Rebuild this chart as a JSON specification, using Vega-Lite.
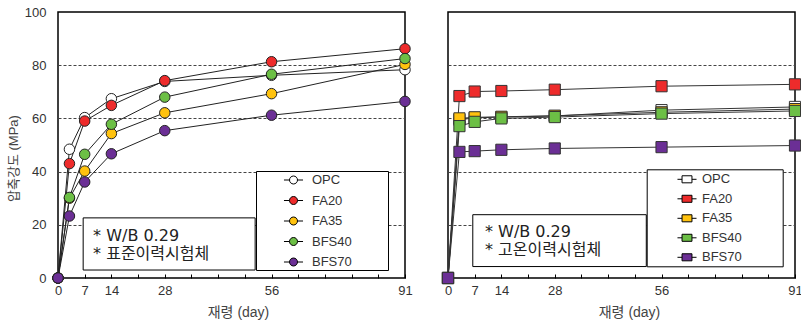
{
  "$schema": "https://vega.github.io/schema/vega-lite/v6.json",
  "background": "white",
  "padding": {"left": 6, "top": 5, "right": 0, "bottom": 0},
  "config": {
    "font": "Liberation Sans, Noto Sans CJK KR, sans-serif",
    "view": {"stroke": "black", "strokeWidth": 1.5},
    "axis": {
      "labelFont": "Liberation Sans, Noto Sans CJK KR, sans-serif",
      "titleFont": "Liberation Sans, Noto Sans CJK KR, sans-serif",
      "labelFontSize": 13,
      "labelColor": "#333",
      "titleFontSize": 14,
      "titleFontWeight": "normal",
      "titleColor": "#444",
      "domain": false,
      "labelOverlap": false
    },
    "axisX": {"labelOverlap": false, "labelFlush": false, "labelBound": false},
    "legend": {
      "labelFont": "Liberation Sans, Noto Sans CJK KR, sans-serif",
      "labelFontSize": 13,
      "labelColor": "#333"
    }
  },
  "datasets": {
    "left": [
      {"series": "OPC", "day": 0, "value": 0}, {"series": "OPC", "day": 3, "value": 48.4}, {"series": "OPC", "day": 7, "value": 60.3}, {"series": "OPC", "day": 14, "value": 67.4}, {"series": "OPC", "day": 28, "value": 73.9}, {"series": "OPC", "day": 56, "value": 76.2}, {"series": "OPC", "day": 91, "value": 78.3},
      {"series": "FA20", "day": 0, "value": 0}, {"series": "FA20", "day": 3, "value": 43.0}, {"series": "FA20", "day": 7, "value": 59.0}, {"series": "FA20", "day": 14, "value": 64.9}, {"series": "FA20", "day": 28, "value": 74.2}, {"series": "FA20", "day": 56, "value": 81.3}, {"series": "FA20", "day": 91, "value": 86.2},
      {"series": "FA35", "day": 0, "value": 0}, {"series": "FA35", "day": 3, "value": 30.0}, {"series": "FA35", "day": 7, "value": 40.2}, {"series": "FA35", "day": 14, "value": 54.3}, {"series": "FA35", "day": 28, "value": 62.1}, {"series": "FA35", "day": 56, "value": 69.3}, {"series": "FA35", "day": 91, "value": 80.3},
      {"series": "BFS40", "day": 0, "value": 0}, {"series": "BFS40", "day": 3, "value": 30.3}, {"series": "BFS40", "day": 7, "value": 46.5}, {"series": "BFS40", "day": 14, "value": 57.8}, {"series": "BFS40", "day": 28, "value": 68.0}, {"series": "BFS40", "day": 56, "value": 76.6}, {"series": "BFS40", "day": 91, "value": 82.5},
      {"series": "BFS70", "day": 0, "value": 0}, {"series": "BFS70", "day": 3, "value": 23.3}, {"series": "BFS70", "day": 7, "value": 36.1}, {"series": "BFS70", "day": 14, "value": 46.7}, {"series": "BFS70", "day": 28, "value": 55.4}, {"series": "BFS70", "day": 56, "value": 61.2}, {"series": "BFS70", "day": 91, "value": 66.4}
    ],
    "right": [
      {"series": "OPC", "day": 0, "value": 0}, {"series": "OPC", "day": 3, "value": 59.5}, {"series": "OPC", "day": 7, "value": 60.2}, {"series": "OPC", "day": 14, "value": 60.5}, {"series": "OPC", "day": 28, "value": 60.9}, {"series": "OPC", "day": 56, "value": 63.1}, {"series": "OPC", "day": 91, "value": 64.3},
      {"series": "FA20", "day": 0, "value": 0}, {"series": "FA20", "day": 3, "value": 68.4}, {"series": "FA20", "day": 7, "value": 70.1}, {"series": "FA20", "day": 14, "value": 70.3}, {"series": "FA20", "day": 28, "value": 70.8}, {"series": "FA20", "day": 56, "value": 72.1}, {"series": "FA20", "day": 91, "value": 72.8},
      {"series": "FA35", "day": 0, "value": 0}, {"series": "FA35", "day": 3, "value": 60.0}, {"series": "FA35", "day": 7, "value": 60.4}, {"series": "FA35", "day": 14, "value": 60.6}, {"series": "FA35", "day": 28, "value": 61.0}, {"series": "FA35", "day": 56, "value": 62.3}, {"series": "FA35", "day": 91, "value": 63.5},
      {"series": "BFS40", "day": 0, "value": 0}, {"series": "BFS40", "day": 3, "value": 57.1}, {"series": "BFS40", "day": 7, "value": 58.7}, {"series": "BFS40", "day": 14, "value": 60.0}, {"series": "BFS40", "day": 28, "value": 60.5}, {"series": "BFS40", "day": 56, "value": 61.8}, {"series": "BFS40", "day": 91, "value": 62.8},
      {"series": "BFS70", "day": 0, "value": 0}, {"series": "BFS70", "day": 3, "value": 47.4}, {"series": "BFS70", "day": 7, "value": 47.7}, {"series": "BFS70", "day": 14, "value": 48.2}, {"series": "BFS70", "day": 28, "value": 48.7}, {"series": "BFS70", "day": 56, "value": 49.2}, {"series": "BFS70", "day": 91, "value": 49.8}
    ]
  },
  "spacing": 43,
  "bounds": "flush",
  "resolve": {"scale": {"fill": "independent"}, "legend": {"fill": "independent"}},
  "hconcat": [
    {
      "width": 347,
      "height": 266,
      "layer": [
        {
          "data": {"values": [{}]},
          "mark": {"type": "rect", "fill": "white", "stroke": "black", "strokeWidth": 1},
          "encoding": {
            "x": {"datum": 6.6, "type": "quantitative", "scale": {"domain": [0, 91], "nice": false},
              "axis": {
                "values": [0, 7, 14, 21, 28, 35, 42, 49, 56, 63, 70, 77, 84, 91],
                "tickCount": 30,
                "labelExpr": "indexof([0, 7, 14, 28, 56, 91], datum.value) >= 0 ? datum.label : ''",
                "labelOverlap": false, "labelFlush": false, "labelBound": false,
                "grid": false, "tickSize": -4, "tickColor": "black", "labelPadding": 10,
                "title": "재령 (day)", "titleX": 180, "titleY": 34, "titleBaseline": "middle"
              }
            },
            "x2": {"datum": 51.7},
            "y": {"datum": 22.6, "type": "quantitative", "scale": {"domain": [0, 100], "nice": false},
              "axis": {
                "values": [0, 20, 40, 60, 80, 100],
                "labelOverlap": false, "labelFlush": false,
                "grid": true, "gridDash": [3, 2], "gridColor": "#444", "gridWidth": 1,
                "gridOpacity": {"condition": {"test": "datum.value == 0 || datum.value == 100", "value": 0}, "value": 1},
                "ticks": false, "labelPadding": 12,
                "title": "압축강도 (MPa)", "titleFontSize": 13, "titleX": -45, "titleY": 146, "titleBaseline": "middle"
              }
            },
            "y2": {"datum": 3.0}
          }
        },
        {
          "data": {"values": [{}]},
          "mark": {"type": "text", "text": ["* W/B 0.29", "* 표준이력시험체"], "align": "left", "baseline": "middle", "lineHeight": 18, "fontSize": 16, "font": "DejaVu Sans, Noto Sans CJK KR, sans-serif", "color": "#222"},
          "encoding": {
            "x": {"datum": 9.2, "type": "quantitative"},
            "y": {"datum": 15.8, "type": "quantitative"}
          }
        },
        {
          "data": {"name": "left"},
          "mark": {"type": "line", "color": "#222", "strokeWidth": 1},
          "encoding": {
            "x": {"field": "day", "type": "quantitative"},
            "y": {"field": "value", "type": "quantitative"},
            "detail": {"field": "series"},
            "order": {"field": "day"}
          }
        },
        {
          "data": {"name": "left"},
          "mark": {"type": "point", "shape": "circle", "filled": true, "size": 110, "stroke": "#222", "strokeWidth": 1, "opacity": 1},
          "encoding": {
            "x": {"field": "day", "type": "quantitative"},
            "y": {"field": "value", "type": "quantitative"},
            "fill": {
              "field": "series", "type": "nominal",
              "scale": {"domain": ["OPC", "FA20", "FA35", "BFS40", "BFS70"], "range": ["#ffffff", "#ee2b2b", "#ffc20e", "#6cbf45", "#6b2f95"]},
              "legend": {
                "orient": "none", "legendX": 198, "legendY": 159, "title": null,
                "symbolType": "M-1.19,0L-0.5,0M0.5,0L1.19,0M-0.5,0A0.5,0.5,0,1,0,0.5,0A0.5,0.5,0,1,0,-0.5,0ZM11.5,0",
                "symbolSize": 256, "symbolStrokeColor": "black", "symbolStrokeWidth": 1,
                "strokeColor": "black", "fillColor": "white", "padding": 0.5,
                "symbolOffset": 28.5, "labelOffset": 10, "rowPadding": 4.5
              }
            }
          }
        }
      ]
    },
    {
      "width": 347,
      "height": 266,
      "layer": [
        {
          "data": {"values": [{}]},
          "mark": {"type": "rect", "fill": "white", "stroke": "black", "strokeWidth": 1},
          "encoding": {
            "x": {"datum": 6.5, "type": "quantitative", "scale": {"domain": [0, 91], "nice": false},
              "axis": {
                "values": [0, 7, 14, 21, 28, 35, 42, 49, 56, 63, 70, 77, 84, 91],
                "tickCount": 30,
                "labelExpr": "indexof([0, 7, 14, 28, 56, 91], datum.value) >= 0 ? datum.label : ''",
                "labelOverlap": false, "labelFlush": false, "labelBound": false,
                "grid": false, "tickSize": -4, "tickColor": "black", "labelPadding": 10,
                "title": "재령 (day)", "titleX": 181, "titleY": 34, "titleBaseline": "middle"
              }
            },
            "x2": {"datum": 52.0},
            "y": {"datum": 23.8, "type": "quantitative", "scale": {"domain": [0, 100], "nice": false},
              "axis": {
                "values": [0, 20, 40, 60, 80, 100],
                "grid": true, "gridDash": [3, 2], "gridColor": "#444", "gridWidth": 1,
                "gridOpacity": {"condition": {"test": "datum.value == 0 || datum.value == 100", "value": 0}, "value": 1},
                "ticks": false, "labels": false, "title": null
              }
            },
            "y2": {"datum": 4.3}
          }
        },
        {
          "data": {"values": [{}]},
          "mark": {"type": "text", "text": ["* W/B 0.29", "* 고온이력시험체"], "align": "left", "baseline": "middle", "lineHeight": 18, "fontSize": 16, "font": "DejaVu Sans, Noto Sans CJK KR, sans-serif", "color": "#222"},
          "encoding": {
            "x": {"datum": 9.7, "type": "quantitative"},
            "y": {"datum": 17.2, "type": "quantitative"}
          }
        },
        {
          "data": {"name": "right"},
          "mark": {"type": "line", "color": "#333", "strokeWidth": 1},
          "encoding": {
            "x": {"field": "day", "type": "quantitative"},
            "y": {"field": "value", "type": "quantitative"},
            "detail": {"field": "series"},
            "order": {"field": "day"}
          }
        },
        {
          "data": {"name": "right"},
          "mark": {"type": "point", "shape": "square", "filled": true, "size": 125, "stroke": "#333", "strokeWidth": 1, "opacity": 1},
          "encoding": {
            "x": {"field": "day", "type": "quantitative"},
            "y": {"field": "value", "type": "quantitative"},
            "fill": {
              "field": "series", "type": "nominal",
              "scale": {"domain": ["OPC", "FA20", "FA35", "BFS40", "BFS70"], "range": ["#ffffff", "#ee2b2b", "#ffc20e", "#6cbf45", "#6b2f95"]},
              "legend": {
                "orient": "none", "legendX": 198.7, "legendY": 157.3, "title": null,
                "symbolType": "M-1.19,0L-0.62,0M0.62,0L1.19,0M-0.62,-0.44L0.62,-0.44L0.62,0.44L-0.62,0.44ZM11.5,0",
                "symbolSize": 256, "symbolStrokeColor": "black", "symbolStrokeWidth": 1,
                "strokeColor": "black", "fillColor": "white", "padding": 1.5,
                "symbolOffset": 30.3, "labelOffset": 6.5, "rowPadding": 3.5
              }
            }
          }
        }
      ]
    }
  ]
}
